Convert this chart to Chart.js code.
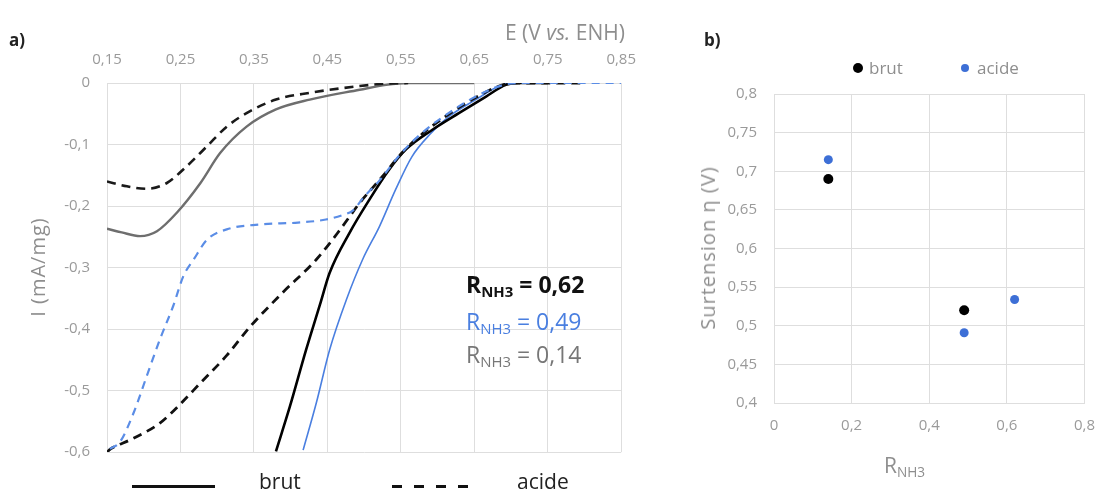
<!DOCTYPE html>
<html>
<head>
<meta charset="utf-8">
<script src="https://cdn.jsdelivr.net/npm/chart.js@4"></script>
<style>
  html, body { margin:0; padding:0; background:#fff; }
  #wrap { position:relative; width:1109px; height:493px; font-family:"Open Sans", Lato, sans-serif; overflow:hidden; }
  #wrap canvas { position:absolute; top:0; }
  .lbl { position:absolute; white-space:nowrap; line-height:1; }
  .gray { color:#8e8e8e; }
  sub { font-size:0.65em; vertical-align:-0.28em; line-height:0; }
</style>
</head>
<body>
<div id="wrap">
  <canvas id="chart-a" width="650" height="493" style="left:0;width:650px;height:493px;"></canvas>
  <canvas id="chart-b" width="429" height="493" style="left:680px;width:429px;height:493px;"></canvas>

  <!-- panel a -->
  <div class="lbl" style="left:9px;top:31px;font-size:17px;font-weight:bold;color:#222;">a)</div>
  <div class="lbl gray" style="left:505px;top:22px;font-size:21px;">E (V <i>vs.</i> ENH)</div>
  <div class="lbl gray" style="left:38px;top:267px;font-size:20px;letter-spacing:1px;transform:translate(-50%,-50%) rotate(-90deg);">I (mA/mg)</div>
  <div class="lbl" style="left:466px;top:273px;font-size:23px;font-weight:bold;color:#111;">R<sub>NH3</sub> = 0,62</div>
  <div class="lbl" style="left:466px;top:310px;font-size:23px;color:#4a7fe0;">R<sub>NH3</sub> = 0,49</div>
  <div class="lbl" style="left:466px;top:343px;font-size:23px;color:#777;">R<sub>NH3</sub> = 0,14</div>
  <div style="position:absolute;left:132px;top:485px;width:83px;border-top:3px solid #111;"></div>
  <div class="lbl" style="left:259px;top:471px;font-size:21px;color:#222;">brut</div>
  <div style="position:absolute;left:392px;top:485px;width:76px;height:3px;background:repeating-linear-gradient(90deg,#111 0 10px,transparent 10px 22px);"></div>
  <div class="lbl" style="left:517px;top:471px;font-size:21px;color:#222;">acide</div>

  <!-- panel b -->
  <div class="lbl" style="left:704px;top:31px;font-size:17px;font-weight:bold;color:#222;">b)</div>
  <div style="position:absolute;left:853px;top:63px;width:10px;height:10px;border-radius:50%;background:#000;"></div>
  <div class="lbl gray" style="left:869px;top:59px;font-size:17px;">brut</div>
  <div style="position:absolute;left:961px;top:64px;width:8px;height:8px;border-radius:50%;background:#3d6fd6;"></div>
  <div class="lbl gray" style="left:977px;top:59px;font-size:17px;">acide</div>
  <div class="lbl gray" style="left:708px;top:248px;font-size:20px;letter-spacing:1px;transform:translate(-50%,-50%) rotate(-90deg);">Surtension η (V)</div>
  <div class="lbl gray" style="left:884px;top:455px;font-size:21px;">R<sub>NH3</sub></div>
</div>

<script>
// ---------- a) courbes I = f(E) ----------
var E_TICKS = [0.15, 0.25, 0.35, 0.45, 0.55, 0.65, 0.75, 0.85];
var I_TICKS = [0, -0.1, -0.2, -0.3, -0.4, -0.5, -0.6];

// R = 0,14 brut (gris, trait plein)
var grayBrutE = [0.15, 0.17, 0.195, 0.218, 0.245, 0.277, 0.304, 0.34, 0.38, 0.426, 0.494, 0.53, 0.56, 0.65];
var grayBrutI = [-0.237, -0.243, -0.249, -0.241, -0.211, -0.163, -0.114, -0.071, -0.043, -0.027, -0.011, -0.003, 0, 0];
// R = 0,14 acide (tirets foncés)
var darkAcidE = [0.15, 0.177, 0.204, 0.231, 0.258, 0.286, 0.313, 0.34, 0.38, 0.426, 0.494, 0.53, 0.56];
var darkAcidI = [-0.16, -0.168, -0.172, -0.163, -0.136, -0.103, -0.071, -0.049, -0.027, -0.016, -0.005, -0.001, 0];
// R = 0,49 acide (tirets bleus)
var blueAcidE = [0.154, 0.168, 0.186, 0.204, 0.222, 0.24, 0.254, 0.268, 0.286, 0.313, 0.358, 0.41, 0.448, 0.47, 0.485, 0.5, 0.52, 0.55, 0.58, 0.62, 0.66, 0.69, 0.71, 0.85];
var blueAcidI = [-0.595, -0.583, -0.537, -0.477, -0.417, -0.363, -0.314, -0.287, -0.255, -0.238, -0.23, -0.227, -0.222, -0.215, -0.207, -0.185, -0.16, -0.115, -0.08, -0.045, -0.017, -0.003, 0, 0];
// R = 0,62 acide (tirets noirs)
var blackAcidE = [0.15, 0.155, 0.182, 0.222, 0.249, 0.277, 0.313, 0.345, 0.389, 0.435, 0.467, 0.494, 0.525, 0.552, 0.58, 0.61, 0.647, 0.684, 0.702, 0.8];
var blackAcidI = [-0.6, -0.595, -0.58, -0.553, -0.523, -0.488, -0.443, -0.396, -0.341, -0.287, -0.239, -0.195, -0.152, -0.113, -0.082, -0.055, -0.027, -0.005, 0, 0];
// brut noir (trait plein)
var blackBrutE = [0.38, 0.399, 0.421, 0.44, 0.453, 0.48, 0.507, 0.534, 0.557, 0.593, 0.629, 0.666, 0.693, 0.71, 0.75];
var blackBrutI = [-0.599, -0.526, -0.434, -0.36, -0.309, -0.244, -0.19, -0.141, -0.108, -0.076, -0.049, -0.022, -0.003, 0, 0];
// brut bleu (trait plein fin)
var blueBrutE = [0.417, 0.435, 0.453, 0.476, 0.498, 0.521, 0.543, 0.565, 0.59, 0.616, 0.652, 0.684, 0.7, 0.72];
var blueBrutI = [-0.597, -0.52, -0.434, -0.352, -0.287, -0.233, -0.173, -0.12, -0.083, -0.054, -0.027, -0.005, 0, 0];

// ---------- b) surtension ----------
var R_TICKS = [0, 0.2, 0.4, 0.6, 0.8];
var ETA_TICKS = [0.4, 0.45, 0.5, 0.55, 0.6, 0.65, 0.7, 0.75, 0.8];
var brutR = [0.14, 0.49];
var brutEta = [0.69, 0.52];
var acideR = [0.14, 0.49, 0.62];
var acideEta = [0.715, 0.491, 0.534];

var GRID = '#dedede';
var TICK_COLOR = '#9a9a9a';
var TICK_FONT = { family: 'Open Sans', size: 15 };

function pts(xs, ys) {
  return xs.map(function(x, i) { return { x: x, y: ys[i] }; });
}
function fmt(v) {
  return String(Math.round(v * 100) / 100).replace('.', ',');
}
function fixTicks(list) {
  return function(scale) { scale.ticks = list.map(function(v) { return { value: v }; }); };
}
function curve(label, xs, ys, color, width, dash) {
  return {
    label: label,
    data: pts(xs, ys),
    borderColor: color,
    backgroundColor: color,
    borderWidth: width,
    borderDash: dash || [],
    showLine: true,
    pointRadius: 0,
    cubicInterpolationMode: 'monotone',
    fill: false,
  };
}

new Chart(document.getElementById('chart-a').getContext('2d'), {
  type: 'scatter',
  data: {
    datasets: [
      curve('acide 0,49', blueAcidE, blueAcidI, '#5b8de6', 2.2, [8, 6]),
      curve('acide 0,14', darkAcidE, darkAcidI, '#1a1a1a', 2.6, [9, 6]),
      curve('acide 0,62', blackAcidE, blackAcidI, '#111', 2.8, [9, 6]),
      curve('brut 0,14', grayBrutE, grayBrutI, '#6e6e6e', 2.4),
      curve('brut 0,62', blackBrutE, blackBrutI, '#000', 2.6),
      curve('brut 0,49', blueBrutE, blueBrutI, '#4a7fe0', 1.6),
    ],
  },
  options: {
    responsive: false,
    animation: false,
    layout: { padding: { left: 0, top: 0, right: 27, bottom: 41 } },
    plugins: { legend: { display: false }, tooltip: { enabled: false } },
    scales: {
      x: {
        type: 'linear',
        position: 'top',
        min: 0.15,
        max: 0.85,
        afterBuildTicks: fixTicks(E_TICKS),
        afterFit: function(s) { s.height = 83; },
        grid: { color: GRID, drawTicks: false },
        border: { color: GRID },
        ticks: { color: TICK_COLOR, font: TICK_FONT, padding: 14, maxRotation: 0, callback: fmt },
      },
      y: {
        type: 'linear',
        min: -0.6,
        max: 0,
        afterBuildTicks: fixTicks(I_TICKS),
        afterFit: function(s) { s.width = 107; },
        grid: { color: GRID, drawTicks: false },
        border: { color: GRID },
        ticks: { color: TICK_COLOR, font: TICK_FONT, padding: 17, callback: fmt },
      },
    },
  },
});

new Chart(document.getElementById('chart-b').getContext('2d'), {
  type: 'scatter',
  data: {
    datasets: [
      { label: 'brut', data: pts(brutR, brutEta), backgroundColor: '#000', borderColor: '#000', pointRadius: 5, pointBorderWidth: 0 },
      { label: 'acide', data: pts(acideR, acideEta), backgroundColor: '#3d6fd6', borderColor: '#3d6fd6', pointRadius: 4.5, pointBorderWidth: 0 },
    ],
  },
  options: {
    responsive: false,
    animation: false,
    layout: { padding: { left: 0, top: 94, right: 16, bottom: 0 } },
    plugins: { legend: { display: false }, tooltip: { enabled: false } },
    scales: {
      x: {
        type: 'linear',
        min: 0,
        max: 0.8,
        afterBuildTicks: fixTicks(R_TICKS),
        afterFit: function(s) { s.height = 90; },
        grid: { color: GRID, drawTicks: false },
        border: { color: GRID },
        ticks: { color: TICK_COLOR, font: TICK_FONT, padding: 14, maxRotation: 0, callback: fmt },
      },
      y: {
        type: 'linear',
        min: 0.4,
        max: 0.8,
        afterBuildTicks: fixTicks(ETA_TICKS),
        afterFit: function(s) { s.width = 94; },
        grid: { color: GRID, drawTicks: false },
        border: { color: GRID },
        ticks: { color: TICK_COLOR, font: TICK_FONT, padding: 17, callback: fmt },
      },
    },
  },
});
</script>
</body>
</html>
